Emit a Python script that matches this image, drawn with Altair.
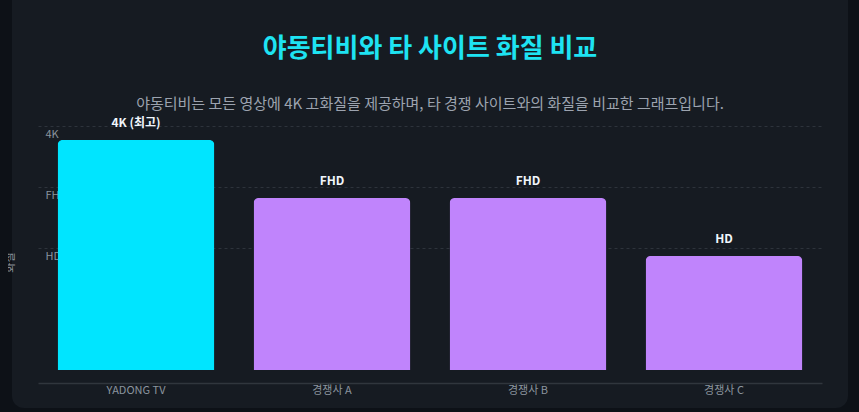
import altair as alt
import pandas as pd
import jinja2

# ---- data ----
sites = ["YADONG TV", "경쟁사 A", "경쟁사 B", "경쟁사 C"]
scores = [3.77, 2.82, 2.82, 1.87]
bar_labels = ["4K (최고)", "FHD", "FHD", "HD"]
bar_colors = ["#00e5ff", "#c084fc", "#c084fc", "#c084fc"]
tick_values = [2, 3, 4]
tick_labels = ["HD", "FHD", "4K"]

df = pd.DataFrame({"site": sites, "score": scores, "label": bar_labels})

label_expr = " : ".join(
    f"datum.value == {v} ? '{t}'" for v, t in zip(tick_values, tick_labels)
) + " : ''"

FONT = "Noto Sans CJK KR"

base = alt.Chart(df).encode(
    x=alt.X(
        "site:N",
        sort=sites,
        scale=alt.Scale(paddingInner=0.2, paddingOuter=0.1),
        axis=alt.Axis(
            title=None, labelAngle=0, offset=13, ticks=False, tickSize=0,
            domainColor="#30363d", domainWidth=1.5, labelColor="#8b949e",
            labelFontSize=11, labelPadding=1, grid=False, labelFont=FONT,
        ),
    ),
    y=alt.Y(
        "score:Q",
        scale=alt.Scale(domain=[0, 4], nice=False, zero=True),
        axis=alt.Axis(
            values=tick_values, labelExpr=label_expr, title="화질",
            titleX=-28, titleY=136, titleBaseline="middle",
            titleColor="#8b949e", titleFontSize=11, titleFontWeight="normal",
            titleFont=FONT,
            grid=True, gridDash=[3, 3], gridColor="#2d333b", gridWidth=1,
            domain=False, ticks=False, tickSize=0,
            labelAlign="left", labelPadding=-7, labelBaseline="middle",
            labelOffset=8, labelColor="#8b949e", labelFontSize=11, labelFont=FONT,
        ),
    ),
)

bars = base.mark_bar(cornerRadiusTopLeft=5, cornerRadiusTopRight=5).encode(
    color=alt.Color("site:N", scale=alt.Scale(domain=sites, range=bar_colors), legend=None)
)

texts = base.mark_text(
    dy=-17, fontWeight="bold", fontSize=12, color="#f0f6fc", baseline="middle", font=FONT
).encode(text="label:N")

chart = (
    alt.layer(bars, texts)
    .properties(
        width=784,
        height=244,
        padding={"left": 38, "top": 118, "right": 29, "bottom": 38},
        autosize=alt.AutoSizeParams(type="none"),
        background="transparent",
        title=alt.Title(
            "야동티비와 타 사이트 화질 비교",
            subtitle="야동티비는 모든 영상에 4K 고화질을 제공하며, 타 경쟁 사이트와의 화질을 비교한 그래프입니다.",
            anchor="middle", frame="group",
            font=FONT, fontSize=26, fontWeight="bold", color="#1ee3f2",
            subtitleFont=FONT, subtitleFontSize=15, subtitleColor="#9ca3af",
            subtitlePadding=35, offset=5,
        ),
    )
    .configure_view(strokeWidth=0)
)

PAGE = jinja2.Template("""<!DOCTYPE html>
<html>
<head>
<meta charset="utf-8">
<style>
  html, body { background: #0d1117; }
  body { margin: 0 8px 8px 8px; padding: 0; }
  #{{ output_div }}.vega-embed {
    display: block; width: 836px; box-sizing: border-box;
    margin: 0 0 0 4px; padding: 8px 0 0 0;
    background: #161b22; border-radius: 0 0 12px 12px;
  }
  #{{ output_div }}.vega-embed svg { display: block; margin-left: -12px; }
</style>
<script type="text/javascript" src="{{ base_url }}/vega@{{ vega_version }}"></script>
<script type="text/javascript" src="{{ base_url }}/vega-lite@{{ vegalite_version }}"></script>
<script type="text/javascript" src="{{ base_url }}/vega-embed@{{ vegaembed_version }}"></script>
</head>
<body>
<div id="{{ output_div }}"></div>
<script>
  (function(vegaEmbed) {
    var spec = {{ spec }};
    var embedOpt = {{ embed_options }};
    function showError(el, error){
      el.innerHTML = ('<div style="color:red;"><p>JavaScript Error: ' + error.message + '</p></div>');
      throw error;
    }
    const el = document.getElementById('{{ output_div }}');
    vegaEmbed("#{{ output_div }}", spec, embedOpt).catch(error => showError(el, error));
  })(vegaEmbed);
</script>
</body>
</html>
""")

chart.save("out.html", embed_options={"renderer": "svg", "actions": False}, template=PAGE)
